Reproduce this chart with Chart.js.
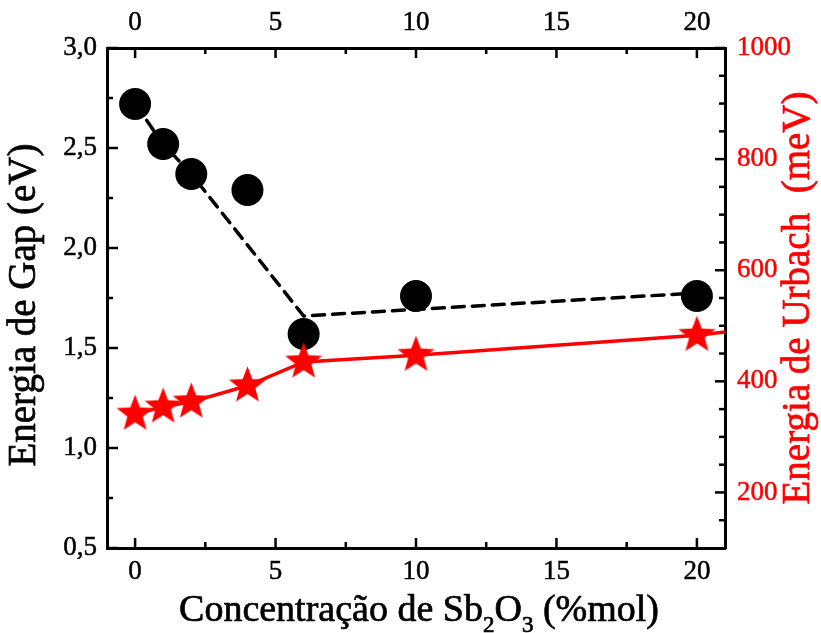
<!DOCTYPE html>
<html>
<head>
<meta charset="utf-8">
<script src="https://cdn.jsdelivr.net/npm/chart.js@4.4.1/dist/chart.umd.min.js"></script>
<style>
  html, body { margin: 0; padding: 0; background: #fff; }
  canvas { display: block; }
</style>
</head>
<body>
<canvas id="chart" width="821" height="633"></canvas>
<script>
const concentration = [0, 1, 2, 4, 6, 10, 20];
const gapEnergy = [2.72, 2.52, 2.37, 2.29, 1.57, 1.76, 1.76];
const urbachEnergy = [341, 354, 363, 392, 435, 447, 483];

// guide lines of the original figure (dashed for gap, solid for Urbach)
const gapGuideX = [0, 1, 2, 6, 20];
const gapGuideY = [2.72, 2.52, 2.37, 1.66, 1.775];
const urbachGuideX = [0, 1, 2, 4, 6, 10, 20, 21];
const urbachGuideY = [341, 354, 363, 392, 435, 447, 483, 489];

const xTicks = [0, 5, 10, 15, 20];
const xMinorTicks = [2.5, 7.5, 12.5, 17.5];
const gapTicks = [0.5, 1.0, 1.5, 2.0, 2.5, 3.0];
const gapMinorTicks = [0.75, 1.25, 1.75, 2.25, 2.75];
const urbachTicks = [200, 400, 600, 800, 1000];
const urbachMinorTicks = [150, 250, 300, 350, 450, 500, 550, 650, 700, 750, 850, 900, 950];

const xTitleParts = [
  { text: "Concentração de Sb", sub: false },
  { text: "2", sub: true },
  { text: "O", sub: false },
  { text: "3", sub: true },
  { text: " (%mol)", sub: false },
];
const gapTitle = "Energia de Gap (eV)";
const urbachTitle = "Energia de Urbach  (meV)";

const FAMILY = '"Liberation Serif", "Times New Roman", serif';
const RED = "#ff0000";

function toPoints(xs, ys) {
  return xs.map((x, i) => ({ x, y: ys[i] }));
}

function makeStar(rOuter, rInner, color) {
  const size = Math.ceil(rOuter * 2) + 2;
  const c = document.createElement("canvas");
  c.width = size;
  c.height = size;
  const g = c.getContext("2d");
  g.translate(size / 2, size / 2);
  g.beginPath();
  for (let i = 0; i < 10; i++) {
    const r = i % 2 === 0 ? rOuter : rInner;
    const a = -Math.PI / 2 + (i * Math.PI) / 5;
    g.lineTo(r * Math.cos(a), r * Math.sin(a));
  }
  g.closePath();
  g.fillStyle = color;
  g.fill();
  return c;
}

const starImg = makeStar(19.5, 8.2, RED);

// inward tick marks on all four sides
const inwardTicks = {
  id: "inwardTicks",
  afterDatasetsDraw(chart) {
    const { ctx, chartArea: a, scales } = chart;
    ctx.save();
    ctx.strokeStyle = "#000";
    ctx.lineWidth = 2.5;
    const hTicks = (scale, values, len) => {
      values.forEach((v) => {
        const px = scale.getPixelForValue(v);
        ctx.beginPath();
        ctx.moveTo(px, a.bottom);
        ctx.lineTo(px, a.bottom - len);
        ctx.moveTo(px, a.top);
        ctx.lineTo(px, a.top + len);
        ctx.stroke();
      });
    };
    const vTicks = (scale, values, len, side) => {
      values.forEach((v) => {
        const py = scale.getPixelForValue(v);
        const x0 = side === "left" ? a.left : a.right;
        const dir = side === "left" ? 1 : -1;
        ctx.beginPath();
        ctx.moveTo(x0, py);
        ctx.lineTo(x0 + dir * len, py);
        ctx.stroke();
      });
    };
    hTicks(scales.x, xTicks, 10);
    hTicks(scales.x, xMinorTicks, 6);
    vTicks(scales.yGap, gapTicks, 11, "left");
    vTicks(scales.yGap, gapMinorTicks, 6, "left");
    vTicks(scales.yUrbach, urbachTicks, 10, "right");
    vTicks(scales.yUrbach, urbachMinorTicks, 6, "right");
    ctx.restore();
  },
};

function heavyText(ctx, text, x, y, color, weight) {
  ctx.fillStyle = color;
  ctx.strokeStyle = color;
  ctx.lineWidth = weight;
  ctx.lineJoin = "round";
  ctx.strokeText(text, x, y);
  ctx.fillText(text, x, y);
}

// axis titles: x title with subscripts, both y titles reading bottom to top
const axisTitles = {
  id: "axisTitles",
  afterDraw(chart) {
    const { ctx, chartArea: a } = chart;
    const mainFont = `39px ${FAMILY}`;
    const xFont = `38px ${FAMILY}`;
    const subFont = `23px ${FAMILY}`;

    ctx.save();
    let total = 0;
    xTitleParts.forEach((p) => {
      ctx.font = p.sub ? subFont : xFont;
      p.w = ctx.measureText(p.text).width;
      total += p.w;
    });
    let x = (a.left + a.right) / 2 - total / 2 + 3;
    const base = 621;
    ctx.textAlign = "left";
    ctx.textBaseline = "alphabetic";
    xTitleParts.forEach((p) => {
      ctx.font = p.sub ? subFont : xFont;
      heavyText(ctx, p.text, x, p.sub ? base + 11 : base, "#000", 0.7);
      x += p.w;
    });
    ctx.restore();

    const vertical = (text, cx, cy, color) => {
      ctx.save();
      ctx.translate(cx, cy);
      ctx.rotate(-Math.PI / 2);
      ctx.font = mainFont;
      ctx.textAlign = "center";
      ctx.textBaseline = "middle";
      heavyText(ctx, text, 0, 0, color, 0.7);
      ctx.restore();
    };
    vertical(gapTitle, 25, 305, "#000");
    vertical(urbachTitle, 799, (a.top + a.bottom) / 2, RED);
  },
};

const tickFont = { family: FAMILY, size: 27 };
const border = { display: true, color: "#000", width: 3 };
const noGrid = { display: false, drawTicks: false };

new Chart(document.getElementById("chart"), {
  type: "scatter",
  data: {
    datasets: [
      {
        label: "Energia de Urbach",
        data: toPoints(concentration, urbachEnergy),
        yAxisID: "yUrbach",
        pointStyle: starImg,
        pointRadius: 19,
        showLine: false,
      },
      {
        label: "Urbach guide",
        data: toPoints(urbachGuideX, urbachGuideY),
        yAxisID: "yUrbach",
        showLine: true,
        borderColor: RED,
        borderWidth: 3.5,
        pointRadius: 0,
      },
      {
        label: "Energia de Gap",
        data: toPoints(concentration, gapEnergy),
        yAxisID: "yGap",
        pointStyle: "circle",
        pointRadius: 16,
        backgroundColor: "#000",
        borderWidth: 0,
        showLine: false,
      },
      {
        label: "Gap guide",
        data: toPoints(gapGuideX, gapGuideY),
        yAxisID: "yGap",
        showLine: true,
        borderColor: "#000",
        borderWidth: 3.5,
        borderDash: [12, 8],
        borderCapStyle: "round",
        pointRadius: 0,
      },
    ],
  },
  options: {
    responsive: false,
    animation: false,
    events: [],
    layout: { padding: 0 },
    plugins: {
      legend: { display: false },
      tooltip: { enabled: false },
    },
    scales: {
      x: {
        type: "linear",
        position: "bottom",
        min: -1,
        max: 21,
        afterBuildTicks: (s) => {
          s.ticks = xTicks.map((value) => ({ value }));
        },
        afterFit: (s) => {
          s.height = 85;
        },
        grid: noGrid,
        border,
        ticks: {
          color: "#000",
          font: tickFont,
          padding: 8,
          textStrokeColor: "#000",
          textStrokeWidth: 0.5,
        },
      },
      xTop: {
        type: "linear",
        position: "top",
        min: -1,
        max: 21,
        afterBuildTicks: (s) => {
          s.ticks = xTicks.map((value) => ({ value }));
        },
        afterFit: (s) => {
          s.height = 48;
        },
        grid: noGrid,
        border,
        ticks: {
          color: "#000",
          font: tickFont,
          padding: 9,
          textStrokeColor: "#000",
          textStrokeWidth: 0.5,
        },
      },
      yGap: {
        type: "linear",
        position: "left",
        min: 0.5,
        max: 3.0,
        afterBuildTicks: (s) => {
          s.ticks = gapTicks.map((value) => ({ value }));
        },
        afterFit: (s) => {
          s.width = 107;
        },
        grid: noGrid,
        border,
        ticks: {
          color: "#000",
          font: tickFont,
          padding: 10,
          textStrokeColor: "#000",
          textStrokeWidth: 0.5,
          callback: (v) => v.toFixed(1).replace(".", ","),
        },
      },
      yUrbach: {
        type: "linear",
        position: "right",
        min: 100,
        max: 1000,
        afterBuildTicks: (s) => {
          s.ticks = urbachTicks.map((value) => ({ value }));
        },
        afterFit: (s) => {
          s.width = 96;
        },
        grid: noGrid,
        border,
        ticks: {
          color: RED,
          font: tickFont,
          padding: 12,
          textStrokeColor: RED,
          textStrokeWidth: 0.5,
          callback: (v) => String(v),
        },
      },
    },
  },
  plugins: [inwardTicks, axisTitles],
});
</script>
</body>
</html>
